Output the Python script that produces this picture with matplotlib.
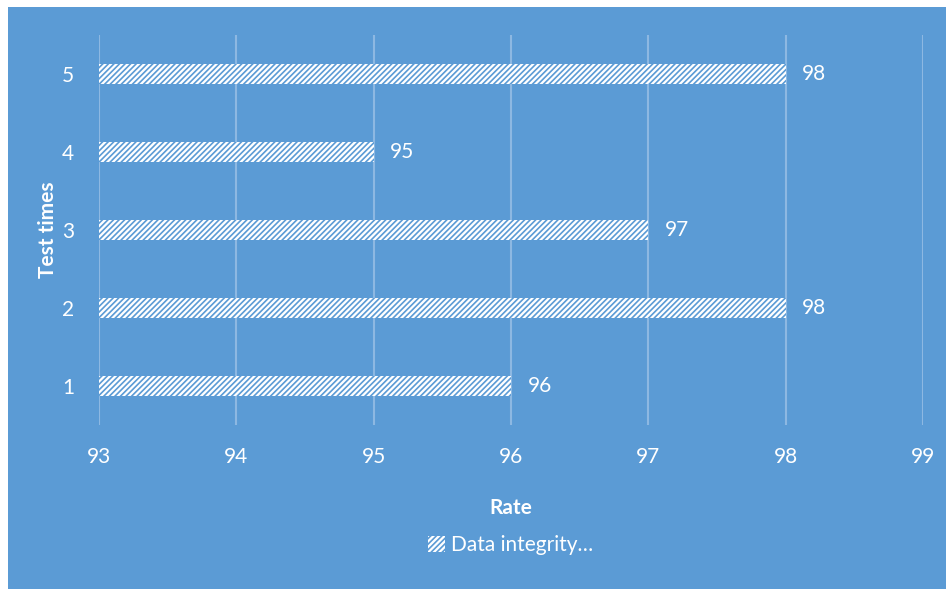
import matplotlib
matplotlib.use("Agg")
import matplotlib.pyplot as plt
from matplotlib.patches import Rectangle

categories = ["1", "2", "3", "4", "5"]
values = [96, 98, 97, 95, 98]
xticks = [93, 94, 95, 96, 97, 98, 99]
series_name = "Data integrity\u2026"

BLUE = "#5B9BD5"
GRID = "#8DB8E2"
W, H = 946, 589

plt.rcParams['font.family'] = ['Lato', 'DejaVu Sans']
plt.rcParams['hatch.linewidth'] = 1.2

fig = plt.figure(figsize=(W / 100, H / 100), dpi=100, facecolor="white")
fig.patches.append(Rectangle((8 / W, 0), 1 - 8 / W, 1 - 7 / H, transform=fig.transFigure,
                             facecolor=BLUE, edgecolor="none", zorder=-10))

ax = fig.add_axes([99 / W, 1 - 425 / H, (923 - 99) / W, (425 - 35) / H])
ax.set_facecolor("none")

ypos = list(range(1, len(categories) + 1))
base = xticks[0]
bars = ax.barh(ypos, [v - base for v in values], left=base, height=0.26,
               facecolor="white", edgecolor=BLUE, linewidth=0, hatch="//////",
               label=series_name, zorder=3)

for y, v in zip(ypos, values):
    ax.text(v + 0.12, y, f"{v}", color="white", fontsize=15, va="center", ha="left")

ax.set_xlim(xticks[0], xticks[-1])
ax.set_ylim(0.5, len(categories) + 0.5)
ax.set_xticks(xticks)
ax.set_yticks(ypos)
ax.set_yticklabels(categories)
ax.grid(axis="x", color=GRID, linewidth=1.5, zorder=1)
ax.set_axisbelow(True)
for s in ax.spines.values():
    s.set_visible(False)
ax.tick_params(axis="both", length=0, colors="white", labelsize=15)
ax.tick_params(axis="x", pad=16)
ax.tick_params(axis="y", pad=18)

ax.set_xlabel("Rate", color="white", fontsize=15, fontweight="bold", labelpad=22)
ax.set_ylabel("Test times", color="white", fontsize=15, fontweight="bold", labelpad=3)

leg = ax.legend(loc="upper center", bbox_to_anchor=(0.5, -0.235), frameon=False,
                handlelength=0.8, handleheight=0.8, handletextpad=0.3,
                fontsize=15, labelcolor="white")

fig.savefig("out.png", dpi=100, facecolor="white")
